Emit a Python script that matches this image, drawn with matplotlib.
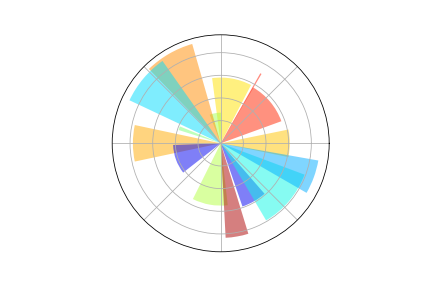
import numpy as np
import matplotlib
matplotlib.use("Agg")
import matplotlib.pyplot as plt

# bar centre angles (degrees)
angles_deg = [0, 40, 60, 80, 100, 120, 140, 160, 180, 200, 260, 280, 300, 320, 340]
# bar lengths (radial units)
radii = [6.1, 5.7, 7.1, 5.8, 2.7, 9.12, 8.9, 3.9, 7.75, 4.2, 5.5, 8.35, 5.9, 7.9, 8.75]
# angular widths (degrees)
widths_deg = [23, 40, 1, 35, 22, 28, 29.5, 5, 24, 36, 33, 14, 22, 39, 20]
# colour values on the jet colormap
color_vals = [0.70, 0.87, 0.88, 0.67, 0.55, 0.76, 0.34, 0.5, 0.73, 0.1, 0.57, 0.96, 0.1, 0.37, 0.295]

theta = np.deg2rad(angles_deg)
width = np.deg2rad(widths_deg)

fig = plt.figure(figsize=(6, 4), dpi=72)
ax = fig.add_axes([0.2597, 0.1257, 0.5023, 0.7535], projection='polar')
bars = ax.bar(theta, radii, width=width, bottom=0.0)
for c, bar in zip(color_vals, bars):
    bar.set_facecolor(plt.cm.jet(c))
    bar.set_alpha(0.5)

ax.set_xticklabels([])
ax.set_yticklabels([])
fig.savefig("out.png", dpi=72)
